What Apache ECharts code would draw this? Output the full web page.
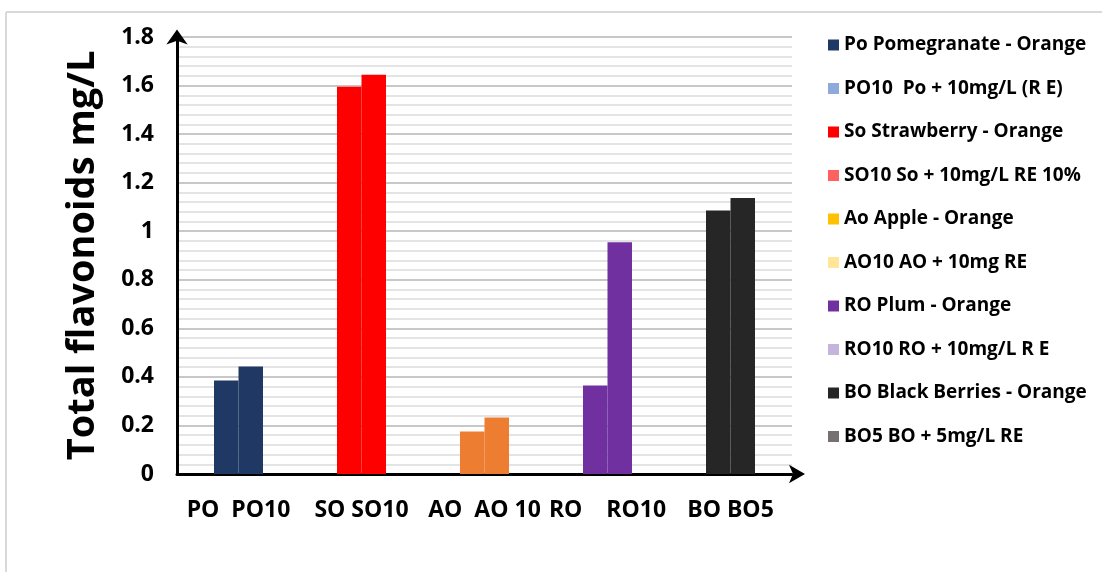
<!DOCTYPE html>
<html>
<head>
<meta charset="utf-8">
<script src="https://cdn.jsdelivr.net/npm/echarts@6/dist/echarts.min.js"></script>
<style>
html,body{margin:0;padding:0;background:#fff;}
#chart{width:1102px;height:572px;}
</style>
</head>
<body>
<div id="chart"></div>
<script>
// ---- data ----
var categories = ['PO  PO10', 'SO SO10', 'AO  AO 10', 'RO    RO10', 'BO BO5'];
var baseValues = [0.385, 1.595, 0.175, 0.365, 1.085];      // Po, So, Ao, RO, BO
var treatedValues = [0.443, 1.645, 0.233, 0.955, 1.137];   // PO10, SO10, AO10, RO10, BO5
var seriesNames = [
  'Po Pomegranate - Orange',
  'PO10  Po + 10mg/L (R E)',
  'So Strawberry - Orange',
  'SO10 So + 10mg/L RE 10%',
  'Ao Apple - Orange',
  'AO10 AO + 10mg RE',
  'RO Plum - Orange',
  'RO10 RO + 10mg/L R E',
  'BO Black Berries - Orange',
  'BO5 BO + 5mg/L RE'
];
var yTickValues = [0, 0.2, 0.4, 0.6, 0.8, 1, 1.2, 1.4, 1.6, 1.8];

// ---- styles ----
var legendColors = ['#203864', '#8eaadb', '#ff0000', '#ff6161', '#ffc000',
                    '#ffe699', '#7030a0', '#c5b5dc', '#262626', '#767171'];
var barColors = ['#203864', '#ff0000', '#ed7d31', '#7030a0', '#262626'];
var FONT = '"Open Sans"';

var series = seriesNames.map(function (name, i) {
  var group = Math.floor(i / 2);
  var which = i % 2;
  var vals = which === 0 ? baseValues : treatedValues;
  return {
    name: name,
    type: 'bar',
    stack: which === 0 ? 'base' : 'treated',
    barWidth: 24.5,
    barGap: '0%',
    itemStyle: { color: legendColors[i] },
    emphasis: { disabled: true },
    data: categories.map(function (c, j) {
      return j === group ? { value: vals[group], itemStyle: { color: barColors[group] } } : '-';
    })
  };
});

var chart = echarts.init(document.getElementById('chart'), null, { renderer: 'canvas' });
chart.setOption({
  animation: false,
  backgroundColor: '#fff',
  graphic: [
    { type: 'line', shape: { x1: 6, y1: 12, x2: 1102, y2: 12 }, style: { stroke: '#d9d9d9', lineWidth: 2 }, silent: true },
    { type: 'line', shape: { x1: 6, y1: 12, x2: 6, y2: 572 }, style: { stroke: '#d9d9d9', lineWidth: 2 }, silent: true }
  ],
  grid: { left: 177, top: 37, right: 310, bottom: 98 },
  legend: {
    orient: 'vertical',
    left: 823,
    top: 29,
    itemWidth: 11,
    itemHeight: 11,
    itemGap: 21.5,
    icon: 'rect',
    selectedMode: false,
    textStyle: { fontFamily: FONT, fontWeight: 'bold', fontSize: 19, color: '#000', lineHeight: 22 },
    data: seriesNames
  },
  xAxis: {
    type: 'category',
    data: categories,
    axisLine: { show: true, symbol: ['none', 'arrow'], symbolSize: [14, 16], symbolOffset: [0, 13],
                lineStyle: { color: '#000', width: 3 } },
    axisTick: { show: false },
    axisLabel: { fontFamily: FONT, fontWeight: 'bold', fontSize: 23, color: '#000', margin: 25,
                 interval: 0, hideOverlap: false },
    splitLine: { show: false }
  },
  yAxis: {
    type: 'value',
    min: 0,
    max: 1.8,
    interval: 0.2,
    name: 'Total flavonoids mg/L',
    nameLocation: 'middle',
    nameGap: 75,
    nameTextStyle: { fontFamily: FONT, fontWeight: 'bold', fontSize: 38, color: '#000' },
    axisLine: { show: true, symbol: ['none', 'arrow'], symbolSize: [16, 15], symbolOffset: [0, 7.5],
                lineStyle: { color: '#000', width: 3 } },
    axisTick: { show: false },
    axisLabel: {
      fontFamily: FONT, fontWeight: 'bold', fontSize: 23, color: '#000', margin: 23,
      formatter: function (v) {
        var idx = yTickValues.findIndex(function (t) { return Math.abs(t - v) < 1e-9; });
        return idx >= 0 ? String(yTickValues[idx]) : '';
      }
    },
    splitLine: { show: true, lineStyle: { color: '#c8c8c8', width: 2, type: 'solid' } },
    minorTick: { show: true, splitNumber: 5, length: 0, lineStyle: { color: 'transparent' } },
    minorSplitLine: { show: true, lineStyle: { color: '#e4e4e4', width: 2, type: 'solid' } }
  },
  series: series
});
</script>
</body>
</html>
